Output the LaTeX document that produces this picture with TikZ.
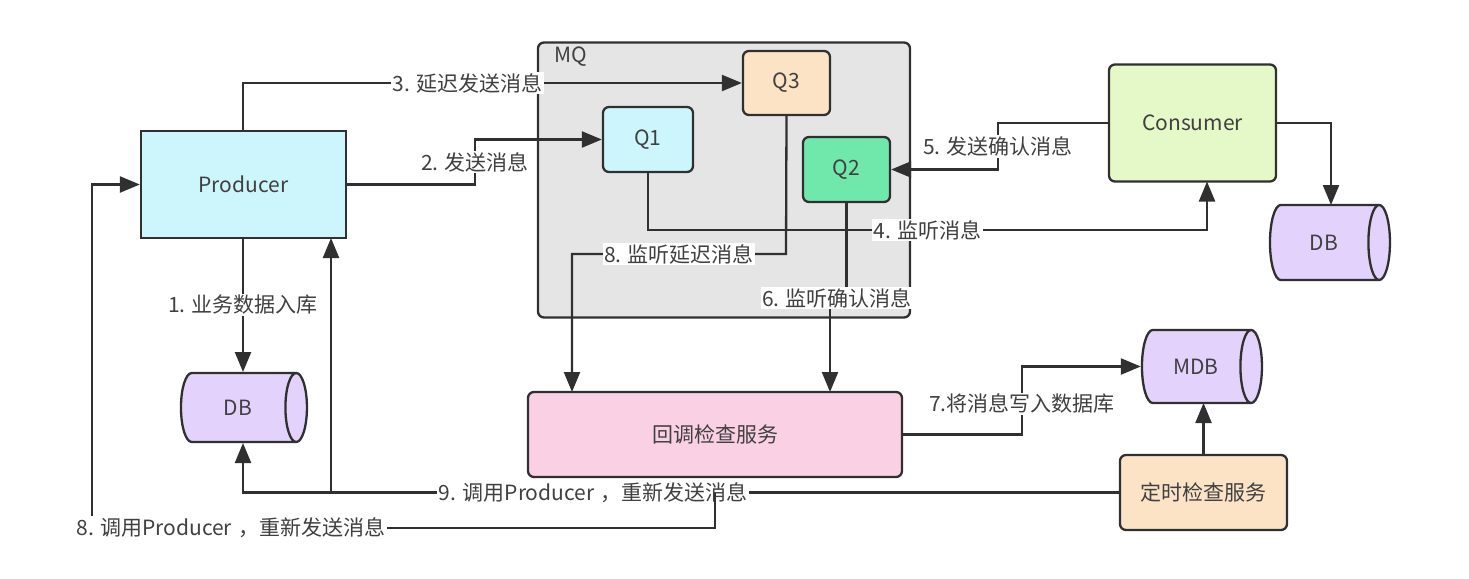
\documentclass[tikz,border=0pt]{standalone}
\usepackage{fontspec}
\setmainfont{Noto Sans CJK SC}
\usetikzlibrary{arrows.meta,shapes.geometric}
\definecolor{ln}{HTML}{303030}
\definecolor{txt}{HTML}{404040}
\definecolor{cyanc}{HTML}{CCF6FC}
\definecolor{peach}{HTML}{FCE3C6}
\definecolor{greenc}{HTML}{70E8AC}
\definecolor{limec}{HTML}{E5F8C8}
\definecolor{dbc}{HTML}{E2D2FC}
\definecolor{pinkc}{HTML}{FAD0E4}
\definecolor{mqc}{HTML}{E5E5E5}
\newcommand{\zc}{\hspace{0.3em}，}
\begin{document}
\begin{tikzpicture}[x=1pt,y=-1pt,
  fnt/.style={font=\fontsize{21}{25}\selectfont, text=txt},
  box/.style={fnt, draw=ln, line width=2.3, inner sep=0, rounded corners=6},
  sqbox/.style={fnt, draw=ln, line width=2.3, inner sep=0},
  db/.style={fnt, cylinder, draw=ln, line width=2.3, fill=dbc, aspect=1.4, inner sep=0},
  conn/.style={draw=ln, line width=2.3},
  arr/.style={conn, -{Triangle[length=20pt,width=16pt]}},
  lbl/.style={fnt, fill=white, inner sep=1.5}]
\useasboundingbox (0,0) rectangle (1469,578);
\fill[white] (0,0) rectangle (1469,578);

% nodes
\node[box, fill=mqc, minimum width=372, minimum height=275] (MQ) at (724,180) {};
\node[fnt, anchor=west, inner sep=0] (MQlbl) at (554,57) {MQ};
\node[sqbox, fill=cyanc, minimum width=205, minimum height=107] (P) at (243.5,184.5) {Producer};
\node[box, fill=peach, minimum width=87, minimum height=64] (Q3) at (786.5,83) {Q3};
\node[box, fill=cyanc, minimum width=90, minimum height=65] (Q1) at (648,139.5) {Q1};
\node[box, fill=greenc, minimum width=87, minimum height=65] (Q2) at (846.5,169.5) {Q2};
\node[box, fill=limec, minimum width=167, minimum height=117] (C) at (1192.5,123) {Consumer};
\node[db, minimum height=120, minimum width=75] (DBr) at (1324,242.5) {DB};
\node[db, minimum height=126, minimum width=69] (DBl) at (238,407.5) {DB};
\node[box, fill=pinkc, minimum width=374, minimum height=85] (CB) at (715,434.5) {回调检查服务};
\node[db, minimum height=120, minimum width=73] (MDB) at (1196,366.5) {MDB};
\node[box, fill=peach, minimum width=167, minimum height=75] (T) at (1203.5,492.5) {定时检查服务};

% junction coordinates
\coordinate (j9) at (331,492.5);
\coordinate (j8) at (715,492.5);

% 1
\draw[arr] (243,238) -- node[lbl]{1. 业务数据入库} (243,372);
% 2
\draw[arr] (P.east) -- (475,184.5) -- node[lbl]{2. 发送消息} (475,139.5) -- (Q1.west);
% 3
\draw[arr] (243,131) -- (243,83) -- node[lbl, pos=0.45]{3. 延迟发送消息} (Q3.west);
% 4
\draw[arr] (Q1.south) -- (648,230) -- node[lbl]{4. 监听消息} (1207,230) -- (1207,181.5);
% 5
\draw[arr] (C.west) -- (998,123) -- node[lbl]{5. 发送确认消息} (998,169.5) -- (Q2.east);
% consumer -> DB
\draw[arr] (C.east) -- (1331,123) -- (1331,205);
% 6
\draw[arr] (Q2.south) -- (846.5,298) -- (830,298) -- (830,392);
\node[lbl] at (837,298) {6. 监听确认消息};
% 8 listen delay
\draw[arr] (Q3.south) -- (786,254) -- node[lbl]{8. 监听延迟消息} (572,254) -- (572,392);
% 7
\draw[arr] (CB.east) -- (1022,434.5) -- node[lbl, pos=0.45]{7.将消息写入数据库} (1022,366.5) -- (MDB.west);
% timer -> MDB
\draw[arr] (T.north) -- (1203.5,403);
% 9
\draw[arr] (T.west) -- node[lbl, pos=0.6]{9. 调用Producer\zc 重新发送消息} (243,492.5) -- (243,443);
\draw[arr] (j9) -- (331,238);
% 8 call producer
\draw[arr] (j8) -- (715,528) -- node[lbl, pos=0.777]{8. 调用Producer\zc 重新发送消息} (92,528) -- (92,184.5) -- (P.west);
\end{tikzpicture}
\end{document}
